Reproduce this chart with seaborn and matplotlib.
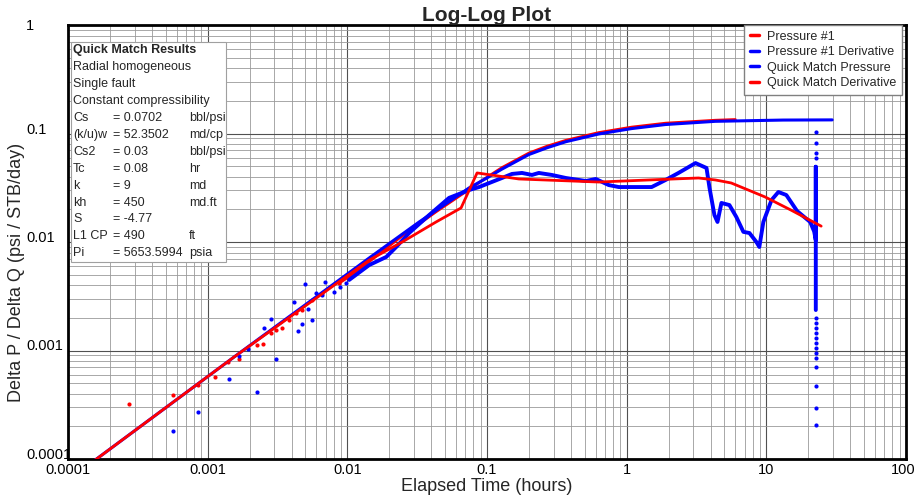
import numpy as np
import pandas as pd
import matplotlib
matplotlib.use("Agg")
import matplotlib.pyplot as plt
import matplotlib.transforms as mtransforms
import seaborn as sns
from matplotlib.lines import Line2D
from matplotlib.patches import Rectangle
from matplotlib.ticker import LogLocator, FixedLocator, NullFormatter

# Pressure #1 (measured) - sparse early points
p1_dot_time = [0.000273, 0.000562, 0.000849, 0.00112, 0.00139, 0.00169, 0.00224, 0.00251,
               0.00282, 0.00311, 0.00338, 0.00385, 0.00432, 0.00477, 0.00562, 0.00663, 0.00877]
p1_dot_val = [0.000321, 0.000389, 0.000481, 0.00057, 0.000783, 0.000835, 0.00112, 0.00115,
              0.00145, 0.00155, 0.00161, 0.00191, 0.00222, 0.00236, 0.00292, 0.00339, 0.00419]
# Pressure #1 (measured) - continuous part
p1_time = [0.00877, 0.0103, 0.01436, 0.0247, 0.0432, 0.0744, 0.0984, 0.128, 0.1995, 0.27,
           0.367, 0.631, 1.086, 1.9, 4.32, 6.0]
p1_val = [0.00419, 0.0048, 0.0066, 0.0114, 0.019, 0.0305, 0.039, 0.0485, 0.066, 0.0765,
          0.0865, 0.102, 0.1145, 0.1245, 0.1325, 0.1345]

# Pressure #1 Derivative (measured) - sparse early points
d1_dot_time = [0.000562, 0.000849, 0.00141, 0.00224, 0.00169, 0.00196, 0.00255, 0.00282,
               0.00306, 0.00418, 0.00447, 0.00477, 0.00501, 0.00526, 0.00562, 0.00601,
               0.00663, 0.00697, 0.00807, 0.00891, 0.00984]
d1_dot_val = [0.000181, 0.000271, 0.000546, 0.000415, 0.000889, 0.00103, 0.00161, 0.00195,
              0.000835, 0.0028, 0.00151, 0.00175, 0.0041, 0.00241, 0.00191, 0.00339,
              0.00325, 0.00428, 0.00346, 0.00385, 0.00419]
# Pressure #1 Derivative (measured) - continuous part
d1_time = [0.0103, 0.01436, 0.019, 0.0224, 0.0277, 0.0385, 0.0535, 0.0744, 0.0877, 0.128,
           0.151, 0.178, 0.21, 0.235, 0.291, 0.367, 0.51, 0.601, 0.743, 0.877, 1.51, 1.9,
           2.35, 3.11, 3.73, 3.92, 4.25, 4.47, 4.77, 5.44, 6.1, 6.85, 7.57, 8.49, 8.91,
           9.52, 10.9, 12.2, 13.9, 16.6, 20.6, 22.0, 22.6, 22.6, 22.6]
d1_val = [0.00447, 0.00614, 0.00728, 0.009, 0.0121, 0.0177, 0.0255, 0.0301, 0.0321, 0.0389,
          0.0424, 0.0433, 0.0415, 0.0433, 0.0415, 0.0389, 0.0365, 0.0381, 0.0335, 0.0321,
          0.0321, 0.0373, 0.0433, 0.0534, 0.0481, 0.0315, 0.0177, 0.0153, 0.0229, 0.0219,
          0.017, 0.0124, 0.0121, 0.01, 0.009, 0.0153, 0.0244, 0.0289, 0.0271, 0.0193,
          0.0153, 0.0125, 0.0104, 0.0494, 0.00236]
# derivative spike at the end of the test
d1_tail_time = [22.6] * 17
d1_tail_val = [0.104, 0.0817, 0.0665, 0.0594, 0.002, 0.00179, 0.00161, 0.00145, 0.0013,
               0.00117, 0.00105, 0.00095, 0.00085, 0.000705, 0.000471, 0.000295, 0.000206]

# Quick Match model
qm_time = [0.00014, 0.001534, 0.01436, 0.0327, 0.0744, 0.0984, 0.128, 0.1995, 0.27, 0.367,
           0.631, 1.086, 1.9, 4.32, 13.2, 29.6]
qm_pressure = [0.000088, 0.000865, 0.00713, 0.0153, 0.0315, 0.0385, 0.047, 0.064, 0.074,
               0.084, 0.099, 0.111, 0.121, 0.1295, 0.133, 0.1335]
qmd_time = [0.00014, 0.001534, 0.01436, 0.0247, 0.0432, 0.0652, 0.0849, 0.169, 0.631,
            1.435, 3.27, 4.32, 5.6, 9.8, 15.0, 24.7]
qm_deriv = [0.000088, 0.000865, 0.00682, 0.01, 0.0153, 0.0206, 0.0433, 0.0381, 0.0357,
            0.0373, 0.0389, 0.0373, 0.035, 0.026, 0.0197, 0.014]

x_ticks = [1e-4, 1e-3, 1e-2, 1e-1, 1, 10, 100]
x_tick_labels = ["0.0001", "0.001", "0.01", "0.1", "1", "10", "100"]
y_ticks = [1e-4, 1e-3, 1e-2, 1e-1, 1]
y_tick_labels = ["0.0001", "0.001", "0.01", "0.1", "1"]

legend_labels = ["Pressure #1", "Pressure #1 Derivative", "Quick Match Pressure", "Quick Match Derivative"]
legend_colors = ["#ff0000", "#0000ff", "#0000ff", "#ff0000"]

qm_header = "Quick Match Results"
qm_model = ["Radial homogeneous", "Single fault", "Constant compressibility"]
qm_names = ["Cs", "(k/u)w", "Cs2", "Tc", "k", "kh", "S", "L1 CP", "Pi"]
qm_values = ["= 0.0702", "= 52.3502", "= 0.03", "= 0.08", "= 9", "= 450", "= -4.77", "= 490", "= 5653.5994"]
qm_units = ["bbl/psi", "md/cp", "bbl/psi", "hr", "md", "md.ft", "", "ft", "psia"]

RED = "#ff0000"
BLUE = "#0000ff"

sns.set_theme(style="white")
plt.rcParams["font.family"] = ["Liberation Sans", "DejaVu Sans"]

fig = plt.figure(figsize=(9.17, 4.99), dpi=100)
W, H = 917, 499
ax = fig.add_axes([68 / W, 40 / H, 838 / W, 434 / H])
ax.set_xscale("log")
ax.set_yscale("log")

# measured pressure
sns.scatterplot(x=p1_dot_time, y=p1_dot_val, color=RED, s=9, linewidth=0, ax=ax, legend=False, zorder=3)
sns.lineplot(x=p1_time, y=p1_val, color=RED, lw=2.0, estimator=None, sort=False, ax=ax, zorder=3)
# measured derivative
sns.scatterplot(x=d1_dot_time, y=d1_dot_val, color=BLUE, s=9, linewidth=0, ax=ax, legend=False, zorder=3)
sns.lineplot(x=d1_time, y=d1_val, color=BLUE, lw=2.8, estimator=None, sort=False, ax=ax, zorder=3)
sns.scatterplot(x=d1_tail_time, y=d1_tail_val, color=BLUE, s=9, linewidth=0, ax=ax, legend=False, zorder=3)
# quick match model
sns.lineplot(x=qm_time, y=qm_pressure, color=BLUE, lw=2.2, estimator=None, sort=False, ax=ax, zorder=4)
sns.lineplot(x=qmd_time, y=qm_deriv, color=RED, lw=2.0, estimator=None, sort=False, ax=ax, zorder=4)

ax.set_xlim(1e-4, 100)
ax.set_ylim(1e-4, 1)

# grid
ax.xaxis.set_major_locator(FixedLocator(x_ticks))
ax.yaxis.set_major_locator(FixedLocator(y_ticks))
ax.xaxis.set_minor_locator(LogLocator(base=10, subs=np.arange(2, 10), numticks=20))
ax.yaxis.set_minor_locator(LogLocator(base=10, subs=np.arange(2, 10), numticks=20))
ax.xaxis.set_minor_formatter(NullFormatter())
ax.yaxis.set_minor_formatter(NullFormatter())
ax.grid(True, which="major", color="#505050", lw=0.8)
ax.grid(True, which="minor", color="#9a9a9a", lw=0.6)
ax.set_axisbelow(True)
ax.set_xticklabels(x_tick_labels)
ax.set_yticklabels(y_tick_labels)
ax.tick_params(which="both", length=0, labelsize=10.5, colors="black")
ax.tick_params(axis="x", pad=3)
ax.tick_params(axis="y", pad=30)
for lab in ax.get_yticklabels():
    lab.set_horizontalalignment("left")
    lab.set_verticalalignment("baseline")
ax.get_yticklabels()[-1].set_verticalalignment("center_baseline")

for sp in ax.spines.values():
    sp.set_color("black")
    sp.set_linewidth(2)
    sp.set_visible(True)

ax.set_title("Log-Log Plot", fontsize=15, fontweight="bold", pad=3)
ax.set_xlabel("Elapsed Time (hours)", fontsize=13)
ax.set_ylabel("Delta P / Delta Q (psi / STB/day)", fontsize=13)
ax.xaxis.set_label_coords(0.5, (459 - 478) / 434)
ax.yaxis.set_label_coords((25 - 68) / 838, (459 - 272) / 434)


def axpos(px, py):
    return (px - 68) / 838, (459 - py) / 434


# quick match results box
bx, by = axpos(71, 262)
ax.add_patch(Rectangle((bx, by), (226 - 71) / 838, (262 - 42) / 434, transform=ax.transAxes,
                       facecolor="white", edgecolor="#a0a0a0", lw=0.8, zorder=6))
row_y = [50 + i * 16.95 for i in range(13)]
ax.text(*axpos(73, row_y[0]), qm_header, transform=ax.transAxes, fontsize=9,
        fontweight="bold", va="center", ha="left", zorder=7)
for i, line in enumerate(qm_model):
    ax.text(*axpos(73, row_y[1 + i]), line, transform=ax.transAxes, fontsize=9,
            va="center", ha="left", zorder=7)
for i, (n, v, u) in enumerate(zip(qm_names, qm_values, qm_units)):
    yy = row_y[4 + i]
    ax.text(*axpos(73, yy), n, transform=ax.transAxes, fontsize=9, va="center", ha="left", zorder=7)
    ax.text(*axpos(113, yy), v, transform=ax.transAxes, fontsize=9, va="center", ha="left", zorder=7)
    ax.text(*axpos(189, yy), u, transform=ax.transAxes, fontsize=9, va="center", ha="left", zorder=7)

handles = [Line2D([], [], color=c, lw=2.5) for c in legend_colors]
leg = ax.legend(handles, legend_labels, loc="upper left", bbox_to_anchor=(744 / W, 1 - 25 / H),
                bbox_transform=fig.transFigure, borderaxespad=0, fontsize=9, handlelength=0.75,
                handletextpad=0.65, borderpad=0.45, labelspacing=0.28, fancybox=False,
                framealpha=1, edgecolor="#808080")
leg.get_frame().set_linewidth(1.0)
leg.set_zorder(8)

# nudge the last x tick label so it stays inside the figure
last = ax.xaxis.get_major_ticks()[-1].label1
last.set_transform(last.get_transform() + mtransforms.ScaledTranslation(-0.03, 0, fig.dpi_scale_trans))

plt.savefig("out.png", dpi=100)
